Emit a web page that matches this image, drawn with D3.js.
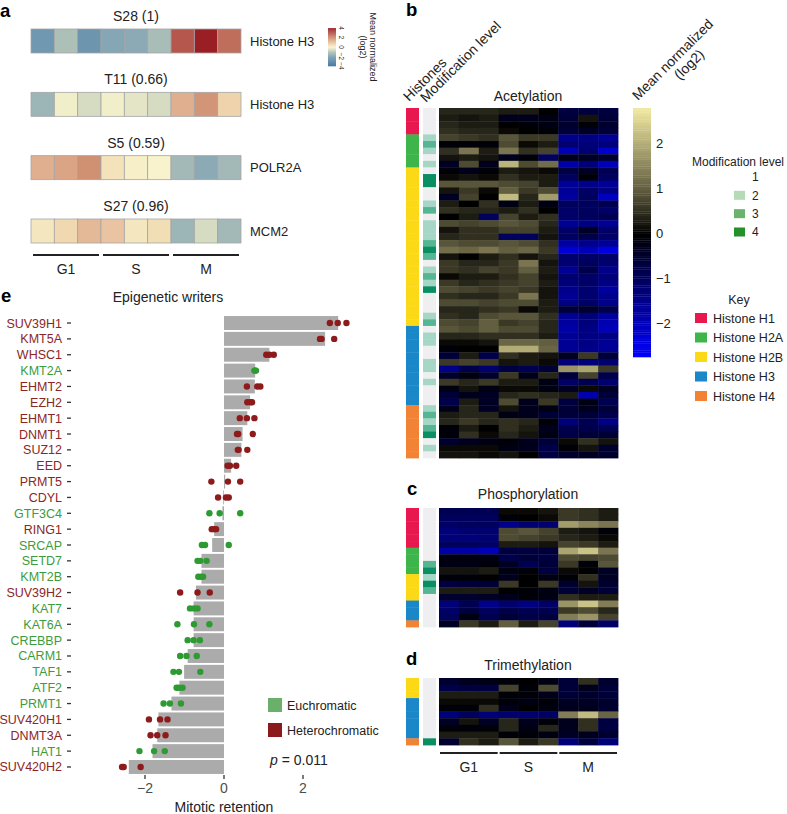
<!DOCTYPE html>
<html><head><meta charset="utf-8">
<script src="https://cdn.jsdelivr.net/npm/d3@7"></script>
<style>body{margin:0;background:#fff}svg{display:block;font-family:"Liberation Sans",Arial,sans-serif}</style>
</head><body><svg id="c" width="787" height="814"></svg>
<script>
// ---------------- DATA ----------------
const phases = ["G1","S","M"];
// panel a
const aSites = ["S28 (1)","T11 (0.66)","S5 (0.59)","S27 (0.96)"];
const aProteins = ["Histone H3","Histone H3","POLR2A","MCM2"];
const aValues = [
  [-2.3,-1.1,-2.4,-1.8,-1.7,-1.2,3.0,4.0,2.6],
  [-1.4,-0.1,-0.5,-0.1,-0.3,-0.5,1.4,1.9,0.7],
  [1.4,1.6,2.0,0.4,0.1,0.0,-1.3,-1.7,-1.3],
  [0.3,0.6,1.2,1.0,0.3,0.5,-1.4,-0.5,-1.3]
];
const aLegendTicks = [4,2,0,-2,-4];

// panel b/c/d
const histoneNames = ["H1","H2A","H2B","H3","H4"];
const histoneLabels = ["Histone H1","Histone H2A","Histone H2B","Histone H3","Histone H4"];
const modLevels = [1,2,3,4];
const heatTicks = [2,1,0,-1,-2];

const acetylHistone = ["H1","H1","H1","H1",
  "H2A","H2A","H2A","H2A","H2A",
  "H2B","H2B","H2B","H2B","H2B","H2B","H2B","H2B","H2B","H2B","H2B","H2B","H2B","H2B","H2B","H2B","H2B","H2B","H2B","H2B","H2B","H2B","H2B","H2B",
  "H3","H3","H3","H3","H3","H3","H3","H3","H3","H3","H3","H3",
  "H4","H4","H4","H4","H4","H4","H4","H4"];
const acetylMod = [1,1,1,1,2,3,2,1,2,1,4,4,1,1,2,3,1,2,2,2,3,4,3,1,2,3,2,4,1,1,1,2,3,1,2,2,1,1,2,2,1,2,1,1,1,2,3,2,3,4,1,2,1];
const acetylValues = [
[0.4,0.4,0.4,0.3,0.3,0.0,-0.7,-0.7,-0.7],
[0.3,0.2,0.3,-0.3,-0.3,-0.2,-0.6,0.2,-0.6],
[0.4,0.3,0.3,0.0,-0.1,-0.2,-0.5,-0.1,-0.5],
[0.5,0.4,0.4,0.1,0.0,-0.1,-0.6,-0.4,-0.6],
[0.7,0.6,0.5,0.9,0.6,0.6,-1.5,-1.4,-1.6],
[-0.1,-0.1,-0.1,0.8,0.1,0.3,-1.2,-1.3,-1.3],
[0.5,1.3,0.3,1.3,0.5,0.7,-2.0,-1.2,-2.2],
[0.2,0.3,0.2,-0.3,-0.1,-1.0,-0.3,-0.4,-0.5],
[-0.4,0.8,-0.3,2.1,0.8,1.2,-1.8,-1.3,-2.0],
[-0.1,-0.3,-0.1,0.3,0.2,0.1,-0.7,-0.4,-0.9],
[0.1,0.2,0.1,0.5,0.3,0.3,-1.0,-0.1,-1.0],
[0.9,0.9,0.9,0.8,0.7,0.3,-1.6,-1.5,-1.6],
[0.2,0.6,0.1,1.0,0.6,0.8,-1.6,-1.1,-1.4],
[-0.4,0.7,0.0,2.2,0.4,1.8,-1.7,-1.0,-2.1],
[0.3,0.0,0.5,-0.2,0.3,-0.2,-1.0,-1.0,-0.9],
[0.5,0.4,0.4,0.3,0.5,0.0,-1.1,-1.0,-1.1],
[0.0,0.3,-1.0,0.7,0.3,0.5,-1.1,-1.0,-0.9],
[0.8,0.7,0.8,0.9,0.8,0.4,-1.6,-1.4,-1.6],
[0.2,0.5,0.5,0.7,0.7,0.3,-1.1,-0.4,-1.1],
[0.4,0.5,0.5,-1.0,-1.0,0.2,-1.0,-0.8,-1.1],
[0.9,0.8,0.8,0.9,0.8,0.5,-1.7,-1.5,-1.6],
[1.2,1.1,1.3,1.0,1.1,0.6,-2.3,-2.0,-2.4],
[0.2,0.0,0.3,0.5,0.2,0.4,-1.2,-1.1,-1.1],
[0.6,0.4,0.4,0.6,1.3,0.2,-1.2,-1.0,-1.2],
[0.6,0.5,0.7,0.6,1.0,0.3,-1.6,-0.8,-1.5],
[0.1,0.3,0.3,0.5,0.7,0.2,-1.2,-1.1,-1.3],
[0.6,0.4,0.5,0.6,0.7,0.3,-1.3,-1.1,-1.4],
[0.8,0.7,0.6,0.7,0.6,0.2,-1.5,-1.2,-1.7],
[0.5,0.4,0.4,0.6,1.3,0.2,-1.6,-1.2,-1.5],
[0.8,0.8,0.7,0.8,0.8,0.3,-1.4,-1.1,-1.5],
[0.4,0.4,0.5,0.6,0.1,0.3,-0.6,-0.5,-0.8],
[0.5,0.4,0.8,0.9,0.9,0.5,-1.6,-1.3,-1.7],
[0.8,0.7,1.0,0.6,0.7,0.4,-1.7,-1.3,-1.9],
[0.9,0.8,1.0,0.8,0.8,0.4,-1.8,-1.4,-2.0],
[0.4,0.4,0.5,0.5,0.5,0.3,-1.6,-1.4,-1.4],
[0.1,0.1,0.2,1.1,1.1,1.0,-1.6,-1.4,-1.6],
[-0.1,0.0,0.0,2.0,2.0,1.1,-1.6,-1.5,-1.6],
[-0.6,0.3,-0.8,0.5,0.3,0.2,-0.4,0.6,-0.6],
[0.6,0.7,0.6,0.2,0.3,0.1,-1.3,-1.3,-1.2],
[-1.5,-0.8,-1.2,-0.7,-0.9,-0.6,1.7,1.9,0.6],
[-0.5,-0.2,-0.5,0.6,-0.3,0.4,-0.6,0.7,-0.8],
[0.6,0.4,0.6,0.3,0.3,-0.2,-1.1,-0.9,-1.2],
[-0.2,0.2,-0.2,0.1,0.1,-0.2,-0.4,0.1,-0.4],
[-0.6,-0.3,-0.4,0.4,0.5,0.4,0.3,-1.9,-0.6],
[-0.8,0.3,-0.4,0.8,-0.3,0.6,-0.7,-0.2,-0.9],
[-0.3,0.4,-0.4,0.2,-0.3,-0.2,-0.6,-0.3,-0.6],
[0.3,0.4,0.4,-0.2,-0.3,-0.6,-0.6,-0.6,-0.8],
[0.4,0.6,0.4,0.5,0.4,-0.1,-1.3,-0.9,-1.4],
[-0.1,0.3,0.0,0.5,0.3,-0.3,-0.8,-0.8,-0.9],
[-0.1,0.5,0.1,0.4,0.2,-0.2,-0.8,-0.6,-0.6],
[-0.5,-0.3,-0.2,-0.1,-0.3,-0.6,0.1,0.5,0.2],
[0.1,0.1,0.1,-0.2,-0.3,-0.8,-0.1,0.2,-0.5],
[0.2,0.2,0.1,0.2,0.0,-0.7,-0.5,-0.4,-0.5]
];

const phosHistone = ["H1","H1","H1","H1","H1","H1","H2A","H2A","H2A","H2A","H2B","H2B","H2B","H2B","H3","H3","H3","H4"];
const phosMod = [1,1,1,1,1,1,1,1,3,4,2,4,3,1,1,1,1,1];
const phosValues = [
[-0.9,-0.9,-0.9,0.1,0.1,0.2,0.6,0.5,0.3],
[-1.0,-1.0,-1.0,-0.1,0.0,0.1,0.6,0.5,0.3],
[-1.1,-1.0,-1.0,-1.5,-1.2,-1.2,1.8,1.5,1.3],
[-1.3,-1.2,-1.2,0.8,0.9,0.7,0.3,0.2,-0.1],
[-1.3,-1.3,-1.2,0.8,0.7,0.6,0.4,0.3,0.1],
[-1.0,-1.0,-1.1,0.3,0.3,0.2,0.7,0.6,0.3],
[-1.8,-1.8,-2.0,-0.7,-0.7,-0.6,1.9,2.3,1.3],
[-0.2,-0.2,-0.2,-0.8,-0.6,-0.7,0.8,0.7,0.8],
[-0.2,-0.2,-0.1,-0.4,-0.9,-0.6,0.6,-0.1,0.9],
[0.2,0.2,0.3,-0.2,-0.1,-0.7,0.1,0.0,-0.4],
[-0.1,-0.1,0.0,-0.3,0.0,-0.2,-0.1,0.5,-0.4],
[-0.7,-0.6,-0.6,0.6,0.0,0.6,-0.5,0.2,-0.5],
[0.3,0.3,0.3,0.0,-0.1,-0.2,-0.6,-0.4,-0.6],
[-0.5,-0.5,-0.4,-0.3,-0.1,-0.2,0.5,0.3,0.3],
[-1.3,-0.9,-1.5,-1.2,-1.4,-1.1,1.7,2.3,1.4],
[-1.1,-0.7,-1.0,-0.8,-0.9,-0.9,0.6,0.8,0.4],
[-1.0,-0.2,-0.9,-0.6,-0.8,-0.7,1.4,1.7,0.7],
[-0.4,0.6,0.3,1.0,0.3,0.7,-1.3,-0.6,-1.1]
];

const trimHistone = ["H2B","H2B","H2B","H3","H3","H3","H3","H3","H3","H4"];
const trimMod = [1,1,1,1,1,1,1,1,1,4];
const trimValues = [
[-0.5,-0.3,-0.2,-0.1,0.0,-0.2,-0.6,0.5,-0.5],
[-0.8,-0.7,-0.7,0.7,-0.1,0.8,-0.6,-0.3,-0.6],
[0.3,0.3,0.3,-0.1,-0.1,-0.3,-0.6,-0.5,-0.6],
[0.1,0.1,0.1,-0.1,-0.2,-0.1,-0.4,-0.4,-0.5],
[-0.1,-0.1,0.5,-0.3,0.0,-0.2,-0.3,-0.3,-0.5],
[-1.3,-1.0,-1.3,-1.2,-1.2,-1.1,1.4,2.2,1.1],
[-0.4,0.2,-0.4,0.4,-0.3,-0.1,-0.3,0.5,-0.7],
[-0.1,-0.1,-0.1,0.4,-0.2,0.4,-0.3,0.5,-0.7],
[0.3,0.3,0.3,-0.1,-0.1,-0.2,-0.4,-0.3,-0.5],
[-0.5,0.5,0.3,0.9,0.3,0.6,-1.3,-0.7,-1.3]
];

// panel e
const genes = ["SUV39H1","KMT5A","WHSC1","KMT2A","EHMT2","EZH2","EHMT1","DNMT1","SUZ12","EED","PRMT5","CDYL","GTF3C4","RING1","SRCAP","SETD7","KMT2B","SUV39H2","KAT7","KAT6A","CREBBP","CARM1","TAF1","ATF2","PRMT1","SUV420H1","DNMT3A","HAT1","SUV420H2"];
const geneClass = ["H","H","H","E","H","H","H","H","H","H","H","H","E","H","E","E","E","H","E","E","E","E","E","E","E","H","H","E","H"];
const meanRetention = [2.89,2.56,1.15,0.79,0.78,0.66,0.59,0.47,0.44,0.18,0.03,-0.02,-0.04,-0.25,-0.30,-0.57,-0.57,-0.71,-0.77,-0.77,-0.77,-0.92,-1.01,-1.13,-1.33,-1.66,-1.69,-1.81,-2.41];
const replicates = [
[2.68,2.88,3.10],[2.43,2.47,2.79],[1.07,1.15,1.26],[0.77,0.79,0.81],[0.58,0.84,0.92],
[0.59,0.67,0.71],[0.40,0.58,0.77],[0.33,0.36,0.73],[0.35,0.37,0.59],[0.09,0.15,0.31],
[-0.32,0.10,0.41],[-0.15,0.05,0.12],[-0.37,-0.11,0.41],[-0.31,-0.25,-0.20],[-0.56,-0.48,0.12],
[-0.67,-0.60,-0.44],[-0.65,-0.58,-0.53],[-1.11,-0.67,-0.36],[-0.86,-0.76,-0.67],[-1.18,-0.76,-0.37],
[-0.92,-0.77,-0.61],[-1.11,-0.95,-0.69],[-1.28,-1.14,-0.60],[-1.20,-1.14,-1.05],[-1.53,-1.37,-1.09],
[-1.90,-1.62,-1.43],[-1.86,-1.69,-1.48],[-2.14,-1.77,-1.50],[-2.58,-2.54,-2.11]
];
const eTicks = [-2,0,2];
const classNames = ["Euchromatic","Heterochromatic"];
const pValue = "0.011";

// ---------------- DRAW ----------------
const svg = d3.select("#c");
const fmt = v => v < 0 ? "\u2212" + Math.abs(v) : String(v);

// panel letters
[["a",0,17],["b",406,16],["c",407,495],["d",406,665],["e",1,302]].forEach(([t,x,y]) =>
  svg.append("text").attr("x",x).attr("y",y).attr("font-size",18.5).attr("font-weight","bold").text(t));

// ===== Panel a =====
const aColor = d3.scaleLinear()
  .domain([-4,-2,-1,0,0.5,1,2,3,4])
  .range(["#3A6E9C","#7A9FB3","#B3C4B8","#F8F3CC","#F2DEB5","#E9C3A2","#D09072","#B5574D","#9A1F25"]);
const aX = d3.scaleBand().domain(d3.range(9)).range([31,241]);
const aY = d3.scalePoint().domain(d3.range(aSites.length)).range([29,219]);
const aH = 24;
aValues.forEach((row,i) => {
  const g = svg.append("g");
  g.append("text").attr("x",136).attr("y",aY(i)-8).attr("text-anchor","middle").attr("font-size",14).attr("fill","#222").text(aSites[i]);
  g.selectAll("rect").data(row).join("rect")
    .attr("x",(d,j)=>aX(j)).attr("y",aY(i)).attr("width",aX.bandwidth()).attr("height",aH)
    .attr("fill",d=>aColor(d)).attr("stroke","#a5a5a5").attr("stroke-width",0.8);
  g.append("text").attr("x",250).attr("y",aY(i)+aH/2+4.5).attr("font-size",13).attr("fill","#222").text(aProteins[i]);
});
phases.forEach((p,k) => {
  const x0 = aX(3*k)+2, x1 = aX(3*k+2)+aX.bandwidth()-2;
  svg.append("line").attr("x1",x0).attr("x2",x1).attr("y1",255).attr("y2",255).attr("stroke","#222").attr("stroke-width",2);
  svg.append("text").attr("x",(x0+x1)/2).attr("y",274).attr("text-anchor","middle").attr("font-size",14).attr("fill","#222").text(p);
});
// a legend
const aLY = d3.scaleLinear().domain([4,-4]).range([28,66]);
svg.append("g").selectAll("rect").data(d3.range(-4,4,0.1)).join("rect")
  .attr("x",328).attr("width",8).attr("y",d=>aLY(d+0.1)).attr("height",aLY(-4)-aLY(-3.9)+0.3)
  .attr("fill",d=>aColor(d+0.05));
aLegendTicks.forEach(t => {
  svg.append("text").attr("transform",`translate(339,${aLY(t)}) rotate(90)`).attr("text-anchor","middle")
    .attr("font-size",6.5).attr("fill","#222").text(fmt(t));
});
svg.append("text").attr("transform","translate(370,47) rotate(90)").attr("text-anchor","middle").attr("font-size",9).attr("fill","#222").text("Mean normalized");
svg.append("text").attr("transform","translate(360,47) rotate(90)").attr("text-anchor","middle").attr("font-size",9).attr("fill","#222").text("(log2)");

// ===== Panels b, c, d =====
const hColor = d3.scaleOrdinal().domain(histoneNames).range(["#E8184F","#3DB54A","#FCD916","#1A87C9","#F28234"]);
const modColor = d3.scaleOrdinal().domain(modLevels).range(["#EFEFF1","#A6D7C6","#56B593","#0A8F63"]);
const modLegendColor = d3.scaleOrdinal().domain(modLevels).range(["#ffffff","#B4DBB6","#6BB36D","#24902A"]);
const heatColor = d3.scaleLinear().domain([-2.75,0,1,2.8]).range(["#0000FF","#000000","#625E40","#F2EAA2"]);
const bX = d3.scaleBand().domain(d3.range(9)).range([439,618]);

function heatmap(values, hist, mod, y0, y1, title, titleY) {
  const y = d3.scaleBand().domain(d3.range(values.length)).range([y0,y1]);
  const g = svg.append("g");
  g.append("text").attr("x",528).attr("y",titleY).attr("text-anchor","middle").attr("font-size",14).attr("fill","#222").text(title);
  g.append("g").selectAll("rect").data(hist).join("rect")
    .attr("x",406).attr("width",13).attr("y",(d,i)=>y(i)).attr("height",y.bandwidth()+0.4).attr("fill",d=>hColor(d));
  g.append("g").selectAll("rect").data(mod).join("rect")
    .attr("x",423).attr("width",13).attr("y",(d,i)=>y(i)).attr("height",y.bandwidth()+0.4).attr("fill",d=>modColor(d));
  values.forEach((row,i) => {
    g.append("g").selectAll("rect").data(row).join("rect")
      .attr("x",(d,j)=>bX(j)).attr("y",y(i)).attr("width",bX.bandwidth()+0.4).attr("height",y.bandwidth()+0.4)
      .attr("fill",d=>heatColor(d));
  });
}
heatmap(acetylValues, acetylHistone, acetylMod, 108, 458, "Acetylation", 101);
heatmap(phosValues, phosHistone, phosMod, 508, 627, "Phosphorylation", 499);
heatmap(trimValues, trimHistone, trimMod, 678, 745, "Trimethylation", 670);

// rotated headers
svg.append("text").attr("transform","translate(409,102) rotate(-45)").attr("font-size",14).attr("fill","#222").text("Histones");
svg.append("text").attr("transform","translate(426,103) rotate(-45)").attr("font-size",14).attr("fill","#222").text("Modification level");
const mn = svg.append("g").attr("transform","translate(638,101) rotate(-45)");
mn.append("text").attr("font-size",14).attr("fill","#222").text("Mean normalized");
mn.append("text").attr("x",62).attr("y",15).attr("text-anchor","middle").attr("font-size",14).attr("fill","#222").text("(log2)");

// colorbar
const cbY = d3.scaleLinear().domain([2.8,-2.75]).range([108,357]);
svg.append("g").selectAll("rect").data(d3.range(-2.75,2.8,0.05)).join("rect")
  .attr("x",633).attr("width",18).attr("y",d=>cbY(d+0.05)).attr("height",cbY(0)-cbY(0.05)+0.3)
  .attr("fill",d=>heatColor(d+0.025));
heatTicks.forEach(t => svg.append("text").attr("x",656).attr("y",cbY(t)).attr("dy","0.35em")
  .attr("font-size",13).attr("fill","#222").text(fmt(t)));

// modification legend
svg.append("text").attr("x",738).attr("y",166).attr("text-anchor","middle").attr("font-size",12).attr("fill","#222").text("Modification level");
const modLY = d3.scalePoint().domain(modLevels).range([177,232]);
modLevels.forEach(m => {
  svg.append("rect").attr("x",734).attr("y",modLY(m)-4.5).attr("width",11).attr("height",9).attr("fill",modLegendColor(m));
  svg.append("text").attr("x",752).attr("y",modLY(m)).attr("dy","0.36em").attr("font-size",12).attr("fill","#222").text(m);
});
// key legend
svg.append("text").attr("x",739).attr("y",304).attr("text-anchor","middle").attr("font-size",12.5).attr("fill","#222").text("Key");
const keyY = d3.scalePoint().domain(histoneNames).range([318,396]);
histoneNames.forEach((h,i) => {
  svg.append("rect").attr("x",695).attr("y",keyY(h)-5).attr("width",12).attr("height",10).attr("fill",hColor(h));
  svg.append("text").attr("x",713).attr("y",keyY(h)).attr("dy","0.36em").attr("font-size",12.5).attr("fill","#222").text(histoneLabels[i]);
});
// phase bars under d
phases.forEach((p,k) => {
  const x0 = bX(3*k)+1, x1 = bX(3*k+2)+bX.bandwidth()-1;
  svg.append("line").attr("x1",x0).attr("x2",x1).attr("y1",753).attr("y2",753).attr("stroke","#222").attr("stroke-width",2);
  svg.append("text").attr("x",(x0+x1)/2).attr("y",772).attr("text-anchor","middle").attr("font-size",14).attr("fill","#222").text(p);
});

// ===== Panel e =====
const eX = d3.scaleLinear().domain([-2,2]).range([145,303]);
const eY = d3.scaleBand().domain(genes).range([315.1,774.9]).paddingInner(0.12).paddingOuter(0.06);
const clsColor = {H:"#8E1B1B", E:"#2E9A32"};
const clsText = {H:"#8B2626", E:"#3C9B3C"};
svg.append("text").attr("x",168).attr("y",302).attr("text-anchor","middle").attr("font-size",14).attr("fill","#222").text("Epigenetic writers");
svg.append("g").selectAll("rect").data(genes).join("rect")
  .attr("x",(d,i)=>Math.min(eX(0),eX(meanRetention[i])))
  .attr("width",(d,i)=>Math.max(0.8,Math.abs(eX(meanRetention[i])-eX(0))))
  .attr("y",d=>eY(d)).attr("height",eY.bandwidth()).attr("fill","#ABABAB");
genes.forEach((gname,i) => {
  const cy = eY(gname)+eY.bandwidth()/2;
  svg.append("text").attr("x",62).attr("y",cy).attr("dy","0.36em").attr("text-anchor","end")
    .attr("font-size",12.5).attr("fill",clsText[geneClass[i]]).text(gname);
  svg.append("line").attr("x1",67).attr("x2",71).attr("y1",cy).attr("y2",cy).attr("stroke","#333").attr("stroke-width",1.3);
  svg.append("g").selectAll("circle").data(replicates[i]).join("circle")
    .attr("cx",d=>eX(d)).attr("cy",cy).attr("r",3.2).attr("fill",clsColor[geneClass[i]]);
});
eTicks.forEach(t => {
  svg.append("line").attr("x1",eX(t)).attr("x2",eX(t)).attr("y1",775).attr("y2",779).attr("stroke","#333").attr("stroke-width",1.3);
  svg.append("text").attr("x",eX(t)).attr("y",793).attr("text-anchor","middle").attr("font-size",14).attr("fill","#4D4D4D").text(fmt(t));
});
svg.append("text").attr("x",224).attr("y",812).attr("text-anchor","middle").attr("font-size",14).attr("fill","#222").text("Mitotic retention");
// legend e
const legE = d3.scalePoint().domain(classNames).range([705,730]);
const legEColor = {"Euchromatic":"#6AAF6A","Heterochromatic":"#8B1A1A"};
classNames.forEach(c => {
  svg.append("rect").attr("x",268).attr("y",legE(c)-7).attr("width",14).attr("height",14).attr("fill",legEColor[c]);
  svg.append("text").attr("x",287).attr("y",legE(c)).attr("dy","0.36em").attr("font-size",12.5).attr("fill","#222").text(c);
});
const pt = svg.append("text").attr("x",270).attr("y",765).attr("font-size",14).attr("fill","#222");
pt.append("tspan").attr("font-style","italic").text("p");
pt.append("tspan").text(" = " + pValue);
</script></body></html>
